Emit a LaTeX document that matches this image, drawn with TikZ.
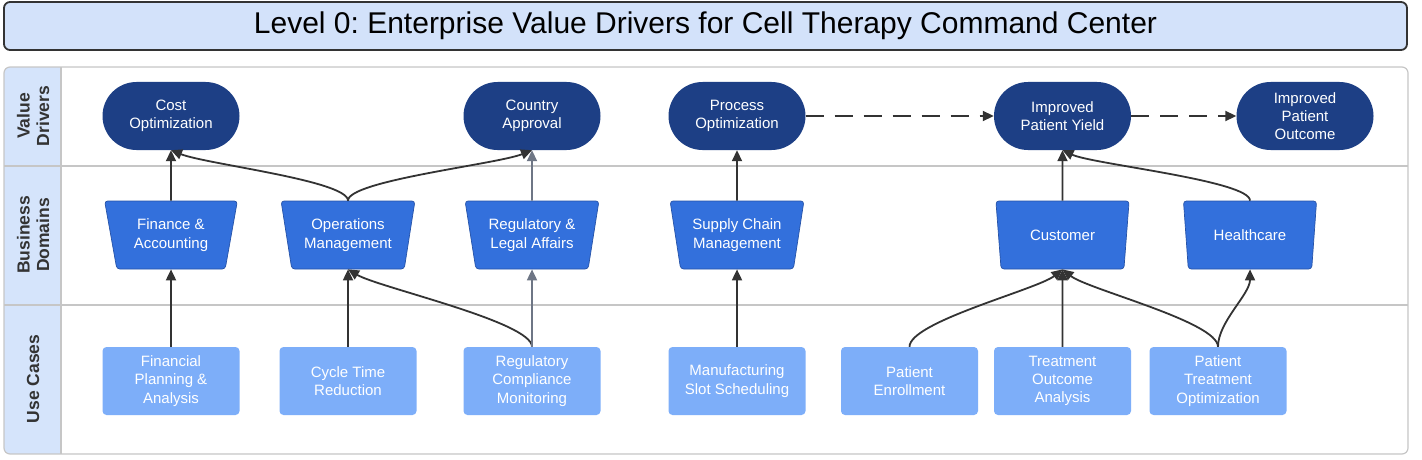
\documentclass[tikz,border=0pt]{standalone}
\usepackage{fontspec}
\setmainfont{Liberation Sans}
\usetikzlibrary{shapes.geometric,arrows.meta,calc}
\definecolor{navy}{HTML}{1D3F85}
\definecolor{domblue}{HTML}{3370DC}
\definecolor{uclight}{HTML}{7DAEF9}
\definecolor{lanebg}{HTML}{D5E4FB}
\definecolor{titlebg}{HTML}{D3E2FA}
\definecolor{lanegray}{HTML}{C6C6C6}
\definecolor{arrowgray}{HTML}{333333}
\definecolor{lightarrow}{HTML}{6E7685}
\frenchspacing
\begin{document}
\begin{tikzpicture}[x=1pt,y=-1pt,
  nodefont/.style={font=\fontsize{15}{18.3}\selectfont},
  driverbox/.style={rectangle, rounded corners=34pt, fill=navy, minimum width=137pt, minimum height=68pt, text=white, nodefont, align=center, inner sep=0pt},
  bizdomain/.style={trapezium, trapezium stretches=true, shape border rotate=180, trapezium left angle=75.5, trapezium right angle=75.5, fill=domblue, draw=navy!60!domblue, line width=0.7pt, rounded corners=3pt, minimum width=134pt, minimum height=68pt, text=white, nodefont, align=center, inner sep=0pt},
  usecasebox/.style={rectangle, rounded corners=4pt, fill=uclight, minimum width=137pt, minimum height=68pt, text=white, nodefont, align=center, inner sep=0pt},
  lanelabel/.style={rotate=90, font=\bfseries\fontsize{17.5}{19.5}\selectfont, align=center, text=arrowgray},
  conn/.style={draw=arrowgray, line width=1.8pt, -{Triangle[length=11pt,width=10pt]}},
  lightconn/.style={conn, draw=lightarrow},
  dashconn/.style={conn, dash pattern=on 18pt off 11pt}
]
\useasboundingbox (0,0) rectangle (1422,460);
% title
\node[draw=arrowgray, line width=1.8pt, rounded corners=6pt, fill=titlebg, minimum width=1403pt, minimum height=48pt, font=\fontsize{30}{33}\selectfont] (title) at (705.5,26) {Level 0: Enterprise Value Drivers for Cell Therapy Command Center};
% frame
\begin{scope}
  \clip[rounded corners=6pt] (4,67) rectangle (1408,454);
  \fill[white] (4,67) rectangle (1408,454);
  \fill[lanebg] (4,67) rectangle (61,454);
  \draw[lanegray, line width=1.2pt] (61,67) -- (61,454);
  \draw[lanegray, line width=1.2pt] (4,166) -- (1408,166);
  \draw[lanegray, line width=1.2pt] (4,305) -- (1408,305);
\end{scope}
\draw[lanegray, line width=1.2pt, rounded corners=6pt] (4,67) rectangle (1408,454);
\node[lanelabel] (lvd) at (33,116) {Value\\Drivers};
\node[lanelabel] (lbd) at (33,235) {Business\\Domains};
\node[lanelabel] (luc) at (33,379) {Use Cases};
% value drivers
\node[driverbox] (cost) at (171,116) {Cost\\Optimization};
\node[driverbox] (country) at (532,116) {Country\\Approval};
\node[driverbox] (process) at (737,116) {Process\\Optimization};
\node[driverbox] (yield) at (1062.5,116) {Improved\\Patient Yield};
\node[driverbox] (outcome) at (1305,116) {Improved\\Patient\\Outcome};
% business domains
\node[bizdomain] (fin) at (171,235) {Finance \&\\Accounting};
\node[bizdomain] (ops) at (348,235) {Operations\\Management};
\node[bizdomain] (reg) at (532,235) {Regulatory \&\\Legal Affairs};
\node[bizdomain] (scm) at (737,235) {Supply Chain\\Management};
\node[bizdomain] (cust) at (1062.5,235) {Customer};
\node[bizdomain] (hc) at (1250,235) {Healthcare};
% use cases
\node[usecasebox] (fpa) at (171,381) {Financial\\Planning \&\\Analysis};
\node[usecasebox] (ctr) at (348,381) {Cycle Time\\Reduction};
\node[usecasebox] (rcm) at (532,381) {Regulatory\\Compliance\\Monitoring};
\node[usecasebox] (mss) at (737,381) {Manufacturing\\Slot Scheduling};
\node[usecasebox] (pe) at (909.5,381) {Patient\\Enrollment};
\node[usecasebox] (toa) at (1062.5,381) {Treatment\\Outcome\\Analysis};
\node[usecasebox] (pto) at (1218,381) {Patient\\Treatment\\Optimization};
% connectors
\draw[conn] (fpa.north) -- (fin.south);
\draw[conn] (fin.north) -- (cost.south);
\draw[conn] (ops.north) .. controls +(0,-20) and +(35,14) .. (cost.south);
\draw[conn] (ops.north) .. controls +(0,-20) and +(-35,14) .. (country.south);
\draw[lightconn] (reg.north) -- (country.south);
\draw[conn] (ctr.north) -- (ops.south);
\draw[conn] (rcm.north) .. controls +(0,-25) and +(30,18) .. (ops.south);
\draw[lightconn] (rcm.north) -- (reg.south);
\draw[conn] (mss.north) -- (scm.south);
\draw[conn] (scm.north) -- (process.south);
\draw[dashconn] (process.east) -- (yield.west);
\draw[dashconn] (yield.east) -- (outcome.west);
\draw[conn] (cust.north) -- (yield.south);
\draw[conn] (hc.north) .. controls +(0,-20) and +(30,14) .. (yield.south);
\draw[conn] (pe.north) .. controls +(0,-25) and +(-25,20) .. (cust.south);
\draw[conn] (toa.north) -- (cust.south);
\draw[conn] (pto.north) .. controls +(0,-25) and +(25,20) .. (cust.south);
\draw[conn] (pto.north) .. controls +(0,-25) and +(0,25) .. (hc.south);
\end{tikzpicture}
\end{document}
